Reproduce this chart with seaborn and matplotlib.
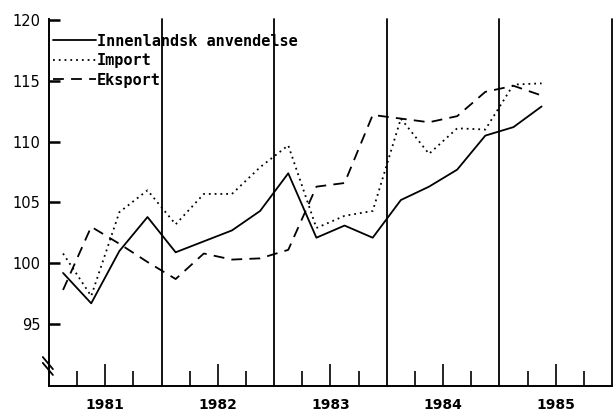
import numpy as np
import pandas as pd
import seaborn as sns
import matplotlib.pyplot as plt

# ---- data: quarterly index, 1981Q1 - 1985Q2 ----
aar = [1981] * 4 + [1982] * 4 + [1983] * 4 + [1984] * 4 + [1985] * 2
kvartal = [1, 2, 3, 4] * 4 + [1, 2]

innenlandsk = [99.2, 96.7, 101.0, 103.8, 100.9, 101.8, 102.7, 104.3, 107.4,
               102.1, 103.1, 102.1, 105.2, 106.3, 107.7, 110.5, 111.2, 112.9]
importverdi = [100.8, 97.3, 104.2, 106.0, 103.2, 105.7, 105.7, 107.9, 109.7,
               102.9, 103.9, 104.3, 111.9, 109.0, 111.1, 111.0, 114.7, 114.8]
eksport = [97.8, 103.0, 101.6, 100.1, 98.7, 100.8, 100.3, 100.4, 101.1,
           106.3, 106.6, 112.2, 111.9, 111.6, 112.1, 114.1, 114.6, 113.8]

serier = ["Innenlandsk anvendelse", "Import", "Eksport"]
aarstall = [1981, 1982, 1983, 1984, 1985]
y_ticks = [95, 100, 105, 110, 115, 120]

# ---- long format for seaborn ----
tid = [a + (k - 0.5) / 4 for a, k in zip(aar, kvartal)]
df = pd.DataFrame({
    "tid": tid * 3,
    "verdi": innenlandsk + importverdi + eksport,
    "serie": np.repeat(serier, len(tid)),
})

sns.set_style("ticks")
plt.rcParams["font.family"] = ["DejaVu Sans"]
plt.rcParams.update({"text.color": "black", "axes.edgecolor": "black",
                     "xtick.color": "black", "ytick.color": "black",
                     "axes.labelcolor": "black"})

fig = plt.figure(figsize=(6.16, 4.19), dpi=100)
ax = fig.add_axes([0.0795, 0.0788, 0.914, 0.876])

sns.lineplot(
    data=df, x="tid", y="verdi", style="serie", style_order=serier,
    dashes={"Innenlandsk anvendelse": "", "Import": (1, 2.2), "Eksport": (6, 4)},
    color="black", linewidth=1.3, ax=ax,
)

# year separators
for a in aarstall[1:] + [1986]:
    ax.axvline(a, color="black", linewidth=1.3, clip_on=False, zorder=1)

ax.set_xlim(1981, 1986)
ax.set_ylim(89.9, 120.1)
ax.set_xlabel("")
ax.set_ylabel("")

ax.set_xticks([a + 0.5 for a in aarstall])
ax.set_xticklabels([str(a) for a in aarstall], fontsize=10, fontweight="bold")
ax.set_xticks([a + q for a in aarstall for q in (0.25, 0.75)], minor=True)
ax.tick_params(axis="x", which="major", direction="in", length=16, width=1.2, pad=9)
ax.tick_params(axis="x", which="minor", direction="in", length=11, width=1.2)

ax.set_yticks(y_ticks)
ax.set_yticklabels([str(v) for v in y_ticks], fontsize=10.5)
ax.tick_params(axis="y", direction="in", length=8, width=1.8, pad=6)

for s in ("top", "right"):
    ax.spines[s].set_visible(False)
for s in ("left", "bottom"):
    ax.spines[s].set_linewidth(1.4)

# axis break marks
for y0, y1 in [(0.079, 0.046), (0.063, 0.030)]:
    ax.plot([-0.011, 0.007], [y0, y1], transform=ax.transAxes,
            color="black", linewidth=1.3, clip_on=False)

handles, labels = ax.get_legend_handles_labels()
ax.legend(handles, labels, loc="upper left", bbox_to_anchor=(0.008, 0.96),
          frameon=False, borderaxespad=0, borderpad=0,
          handlelength=2.8, handletextpad=0.05, labelspacing=0.3,
          prop={"family": "DejaVu Sans Mono", "size": 11, "weight": "bold"})

fig.savefig("out.png", dpi=100)
